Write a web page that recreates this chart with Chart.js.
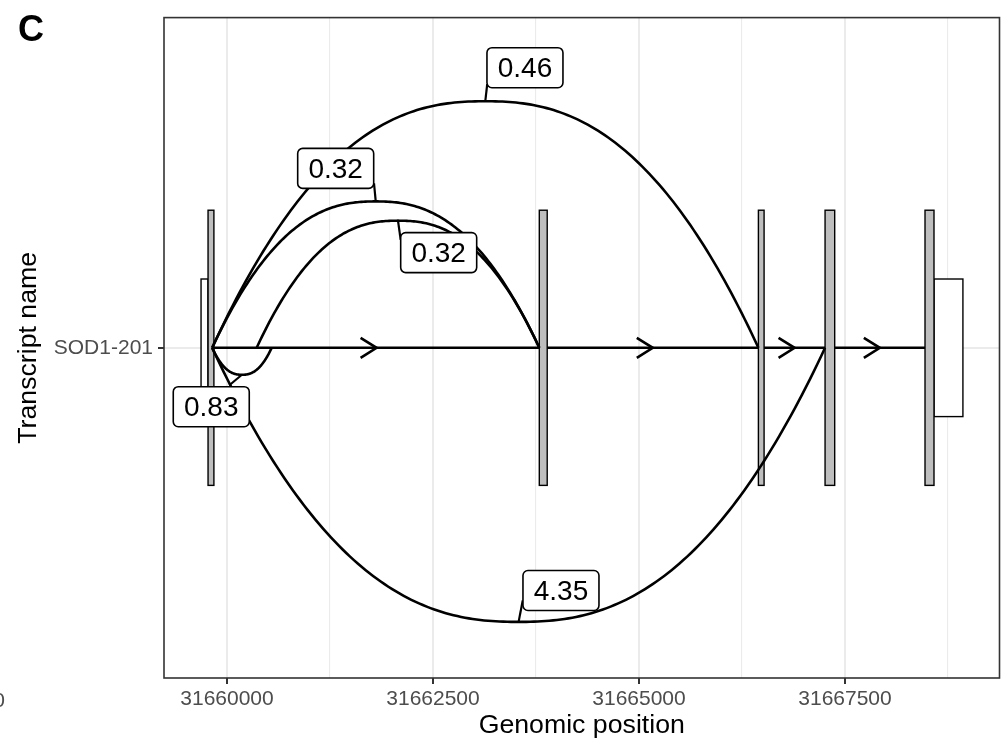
<!DOCTYPE html>
<html><head><meta charset="utf-8">
<script src="https://cdn.jsdelivr.net/npm/chart.js@4.4.1/dist/chart.umd.min.js"></script>
<style>html,body{margin:0;padding:0;background:#fff;} canvas{display:block;}</style>
</head><body>
<canvas id="c" width="1001" height="743"></canvas>
<script>
// ---------------- data ----------------
const transcriptNames = ['SOD1-201'];
const cdsStarts = [31659770, 31663790, 31666449, 31667258, 31668471];
const cdsEnds   = [31659841, 31663886, 31666518, 31667375, 31668580];
const utrStarts = [31659685, 31668580];
const utrEnds   = [31659770, 31668931];
const junctionStarts = [31659820, 31659820, 31660360, 31659820, 31659820];
const junctionEnds   = [31666449, 31663790, 31663790, 31660542, 31667258];
const junctionPeaks  = [0.448, 0.266, 0.231, -0.049, -0.498];
const junctionLabels = ['0.46', '0.32', '0.32', '0.83', '4.35'];
const labelX = [31663616, 31661319, 31662569, 31659809, 31664053];
const labelY = [1.509, 1.326, 1.173, 0.893, 0.559];
const leaderEndX = [31663158, 31661784, 31662108, 31660028, 31663589];
const leaderEndY = [1.479, 1.299, 1.196, 0.932, 0.541];
const xMajorTicks = [31660000, 31662500, 31665000, 31667500];
const xTickLabels = ['31660000', '31662500', '31665000', '31667500'];
const xMinorGrid  = [31661250, 31663750, 31666250, 31668750];
const yTickValues = [1];

// ---------------- build ----------------
const FONT = "'Liberation Sans', Arial, Helvetica, sans-serif";
const LW = 2.6;
const intronDatasets = [];
for (let i = 0; i < cdsStarts.length - 1; i++) {
  intronDatasets.push({
    type: 'scatter',
    showLine: true,
    data: [{x: cdsEnds[i], y: 1}, {x: cdsStarts[i + 1], y: 1}],
    borderColor: '#000',
    backgroundColor: '#000',
    borderWidth: LW,
    pointRadius: 0,
    pointHoverRadius: 0,
    fill: false,
    tension: 0
  });
}

const isMajor = v => xMajorTicks.indexOf(v) >= 0;

const genePlugin = {
  id: 'gene',
  beforeDatasetsDraw(chart) {
    const {ctx, scales: {x, y}} = chart;
    ctx.save();
    ctx.strokeStyle = '#000';
    ctx.lineWidth = 1.4;
    const utrHalf = 0.125, cdsHalf = 0.25;
    for (let i = 0; i < utrStarts.length; i++) {
      const x0 = x.getPixelForValue(utrStarts[i]), x1 = x.getPixelForValue(utrEnds[i]);
      const yt = y.getPixelForValue(1 + utrHalf), yb = y.getPixelForValue(1 - utrHalf);
      ctx.fillStyle = '#ffffff';
      ctx.fillRect(x0, yt, x1 - x0, yb - yt);
      ctx.strokeRect(x0, yt, x1 - x0, yb - yt);
    }
    for (let i = 0; i < cdsStarts.length; i++) {
      const x0 = x.getPixelForValue(cdsStarts[i]), x1 = x.getPixelForValue(cdsEnds[i]);
      const yt = y.getPixelForValue(1 + cdsHalf), yb = y.getPixelForValue(1 - cdsHalf);
      ctx.fillStyle = '#bebebe';
      ctx.fillRect(x0, yt, x1 - x0, yb - yt);
      ctx.strokeRect(x0, yt, x1 - x0, yb - yt);
    }
    ctx.restore();
  },
  afterDatasetsDraw(chart) {
    const {ctx, scales: {x, y}} = chart;
    ctx.save();
    const y0 = y.getPixelForValue(1);
    // intron arrows
    ctx.strokeStyle = '#000';
    ctx.lineWidth = LW;
    ctx.lineJoin = 'miter';
    for (let i = 0; i < cdsStarts.length - 1; i++) {
      const tip = x.getPixelForValue((cdsEnds[i] + cdsStarts[i + 1]) / 2);
      ctx.beginPath();
      ctx.moveTo(tip - 16, y0 - 10);
      ctx.lineTo(tip, y0);
      ctx.lineTo(tip - 16, y0 + 10);
      ctx.stroke();
    }
    // junction curves
    ctx.lineWidth = LW;
    ctx.lineCap = 'butt';
    ctx.lineJoin = 'round';
    for (let j = 0; j < junctionStarts.length; j++) {
      const xs = x.getPixelForValue(junctionStarts[j]);
      const xe = x.getPixelForValue(junctionEnds[j]);
      const yp = y.getPixelForValue(1 + junctionPeaks[j]);
      ctx.beginPath();
      const N = 160;
      for (let k = 0; k <= N; k++) {
        const t = k / N, u = 2 * t - 1;
        const f = 1 - Math.pow(Math.abs(u), 2.4);
        const px = xs + (xe - xs) * t, py = y0 + (yp - y0) * f;
        if (k === 0) ctx.moveTo(px, py); else ctx.lineTo(px, py);
      }
      ctx.stroke();
    }
    // leader segments
    ctx.lineWidth = 2.2;
    for (let j = 0; j < junctionLabels.length; j++) {
      const px = x.getPixelForValue((junctionStarts[j] + junctionEnds[j]) / 2);
      const py = y.getPixelForValue(1 + junctionPeaks[j]);
      ctx.beginPath();
      ctx.moveTo(px, py);
      ctx.lineTo(x.getPixelForValue(leaderEndX[j]), y.getPixelForValue(leaderEndY[j]));
      ctx.stroke();
    }
    // labels
    const W = 76, H = 40, R = 5;
    ctx.font = '28px ' + FONT;
    ctx.textAlign = 'center';
    ctx.textBaseline = 'middle';
    for (let j = 0; j < junctionLabels.length; j++) {
      const cx = x.getPixelForValue(labelX[j]), cy = y.getPixelForValue(labelY[j]);
      const lx = cx - W / 2, ly = cy - H / 2;
      ctx.beginPath();
      ctx.roundRect(lx, ly, W, H, R);
      ctx.fillStyle = '#fff';
      ctx.fill();
      ctx.lineWidth = 1.6;
      ctx.strokeStyle = '#000';
      ctx.stroke();
      ctx.fillStyle = '#000';
      ctx.fillText(junctionLabels[j], cx, cy + 1.5);
    }
    ctx.restore();
  },
  afterDraw(chart) {
    const {ctx, chartArea: a} = chart;
    ctx.save();
    ctx.strokeStyle = '#333333';
    ctx.lineWidth = 1.6;
    ctx.strokeRect(a.left, a.top, a.right - a.left, a.bottom - a.top);
    ctx.fillStyle = '#000';
    ctx.font = 'bold 36px ' + FONT;
    ctx.textAlign = 'left';
    ctx.textBaseline = 'alphabetic';
    ctx.fillText('C', 18, 41);
    ctx.fillStyle = '#4d4d4d';
    ctx.font = '21px ' + FONT;
    ctx.textAlign = 'right';
    ctx.fillText('0', 5, 707);
    ctx.restore();
  }
};

new Chart(document.getElementById('c').getContext('2d'), {
  type: 'scatter',
  data: {datasets: intronDatasets},
  options: {
    responsive: false,
    animation: false,
    devicePixelRatio: 1,
    layout: {padding: {top: 13, right: 1.5, left: 0, bottom: 0}},
    plugins: {legend: {display: false}, tooltip: {enabled: false}},
    scales: {
      x: {
        type: 'linear',
        min: 31659235.4,
        max: 31669375,
        afterFit(s) { s.height = 65; },
        afterBuildTicks(s) {
          s.ticks = xMajorTicks.concat(xMinorGrid).sort((a, b) => a - b).map(v => ({value: v}));
        },
        ticks: {
          callback(v) { const i = xMajorTicks.indexOf(v); return i >= 0 ? xTickLabels[i] : ''; },
          font: {family: FONT, size: 21},
          color: '#4d4d4d',
          padding: 3,
          maxRotation: 0,
          minRotation: 0,
          autoSkip: false
        },
        grid: {
          color: '#ebebeb',
          lineWidth: c => (c.tick && isMajor(c.tick.value)) ? 2 : 1.1,
          tickColor: c => (c.tick && isMajor(c.tick.value)) ? '#333333' : 'rgba(0,0,0,0)',
          tickWidth: 2,
          tickLength: 6,
          drawTicks: true
        },
        border: {display: false},
        title: {display: true, text: 'Genomic position', color: '#000', font: {family: FONT, size: 26.7}, padding: {top: 0, bottom: 1.5}}
      },
      y: {
        type: 'linear',
        min: 0.4,
        max: 1.6,
        afterFit(s) { s.width = 164; },
        afterBuildTicks(s) { s.ticks = yTickValues.map(v => ({value: v})); },
        ticks: {
          callback(v) { const i = yTickValues.indexOf(v); return i >= 0 ? transcriptNames[i] : ''; },
          font: {family: FONT, size: 21},
          color: '#4d4d4d',
          padding: 5
        },
        grid: {
          color: '#ebebeb',
          lineWidth: 2,
          tickColor: '#333333',
          tickWidth: 2,
          tickLength: 6
        },
        border: {display: false},
        title: {display: true, text: 'Transcript name', color: '#000', font: {family: FONT, size: 26.7}, padding: {top: 13, bottom: 0}}
      }
    }
  },
  plugins: [genePlugin]
});
</script>
</body></html>
